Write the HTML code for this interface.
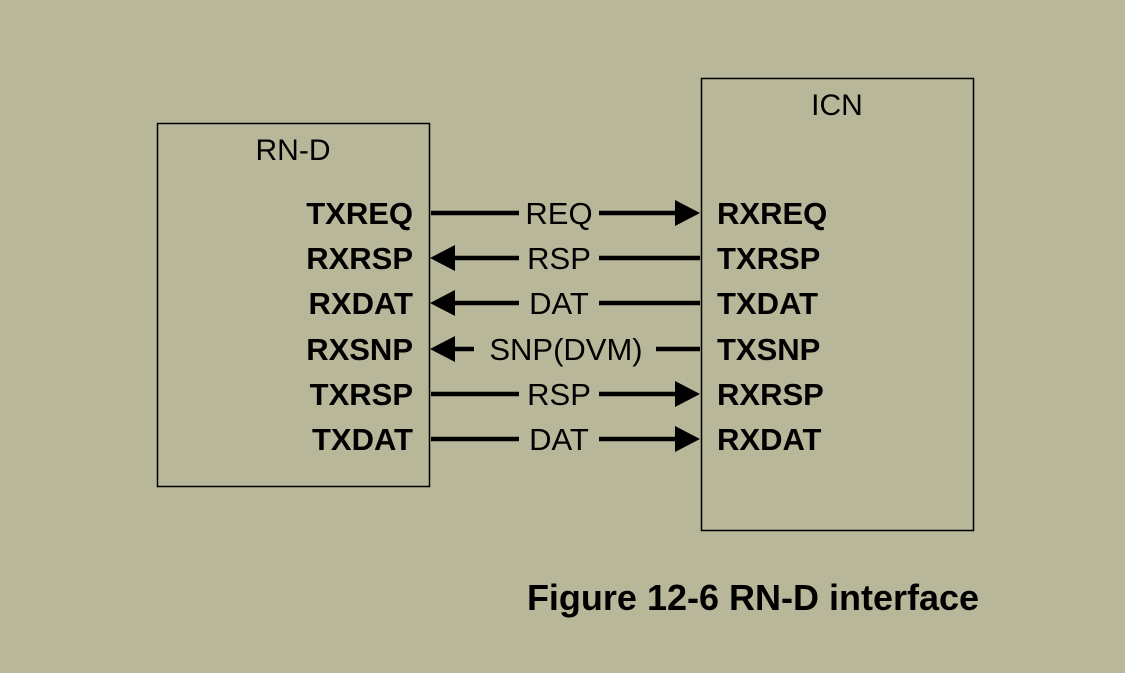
<!DOCTYPE html>
<html><head><style>
body{margin:0;background:#b9b799;}
svg{display:block}
text{font-family:"Liberation Sans",sans-serif;fill:#000}
</style></head><body>
<svg width="1125" height="673" viewBox="0 0 1125 673">
<rect x="0" y="0" width="1125" height="673" fill="#b9b799"/>
<rect x="157.5" y="123.5" width="272" height="363" fill="none" stroke="#000" stroke-width="1.5"/>
<rect x="701.5" y="78.5" width="272" height="452" fill="none" stroke="#000" stroke-width="1.5"/>
<text x="293" y="160" font-size="30" text-anchor="middle">RN-D</text>
<text x="837" y="115" font-size="30" text-anchor="middle">ICN</text>
<g font-size="31" font-weight="bold" text-anchor="end">
<text x="413" y="224">TXREQ</text>
<text x="413" y="269">RXRSP</text>
<text x="413" y="314">RXDAT</text>
<text x="413" y="360">RXSNP</text>
<text x="413" y="405">TXRSP</text>
<text x="413" y="450">TXDAT</text>
</g>
<g font-size="31" font-weight="bold">
<text x="717" y="224">RXREQ</text>
<text x="717" y="269">TXRSP</text>
<text x="717" y="314">TXDAT</text>
<text x="717" y="360">TXSNP</text>
<text x="717" y="405">RXRSP</text>
<text x="717" y="450">RXDAT</text>
</g>
<g font-size="31" text-anchor="middle">
<text x="559" y="224">REQ</text>
<text x="559" y="269">RSP</text>
<text x="559" y="314">DAT</text>
<text x="566" y="360">SNP(DVM)</text>
<text x="559" y="405">RSP</text>
<text x="559" y="450">DAT</text>
</g>
<g stroke="#000" stroke-width="4.5">
<line x1="431" y1="213" x2="519" y2="213"/><line x1="599" y1="213" x2="680" y2="213"/>
<line x1="450" y1="258" x2="519" y2="258"/><line x1="599" y1="258" x2="700" y2="258"/>
<line x1="450" y1="303" x2="519" y2="303"/><line x1="599" y1="303" x2="700" y2="303"/>
<line x1="450" y1="349" x2="474" y2="349"/><line x1="656" y1="349" x2="700" y2="349"/>
<line x1="431" y1="394" x2="519" y2="394"/><line x1="599" y1="394" x2="680" y2="394"/>
<line x1="431" y1="439" x2="519" y2="439"/><line x1="599" y1="439" x2="680" y2="439"/>
</g>
<g fill="#000">
<polygon points="700,213 675,200 675,226"/>
<polygon points="700,394 675,381 675,407"/>
<polygon points="700,439 675,426 675,452"/>
<polygon points="430,258 455,245 455,271"/>
<polygon points="430,303 455,290 455,316"/>
<polygon points="430,349 455,336 455,362"/>
</g>
<text x="753" y="610" font-size="36" font-weight="bold" text-anchor="middle">Figure 12-6 RN-D interface</text>
</svg>
</body></html>
